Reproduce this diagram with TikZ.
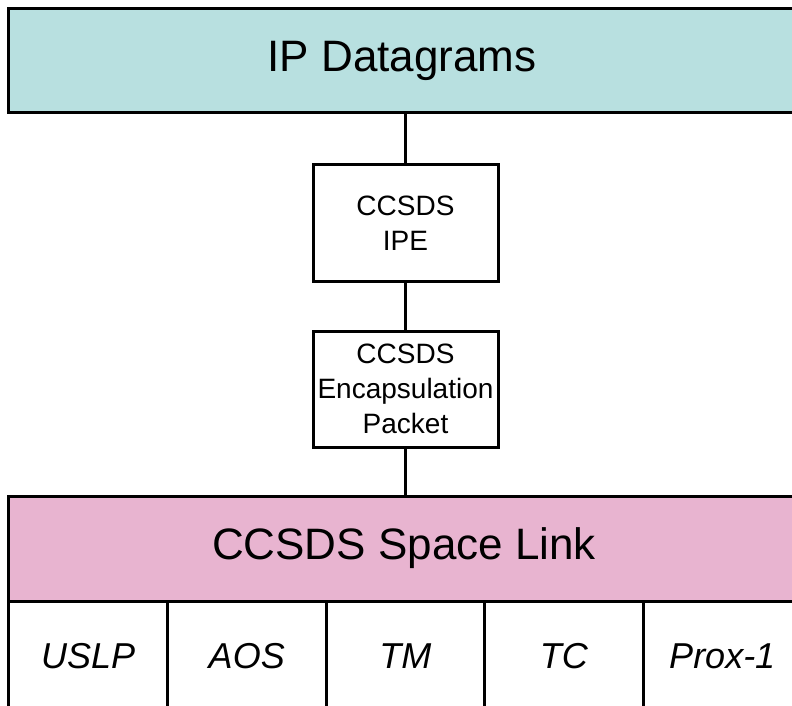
\documentclass[tikz,border=0pt]{standalone}
\usepackage{fontspec}
\setmainfont{Liberation Sans}
\definecolor{ipteal}{RGB}{184,224,224}
\definecolor{slpink}{RGB}{232,180,208}
\begin{document}
\begin{tikzpicture}[x=1bp,y=-1bp,
  layerbox/.style={draw, line width=3bp, inner sep=0pt, outer sep=0pt,
    minimum width=840bp, font=\fontsize{44bp}{50bp}\selectfont},
  protobox/.style={draw, fill=white, line width=3bp, inner sep=0pt, outer sep=0pt,
    align=center, minimum width=185bp, font=\fontsize{28bp}{35bp}\selectfont},
  cellbox/.style={draw, line width=3bp, inner sep=0pt, outer sep=0pt,
    minimum width=158.5bp, minimum height=111bp,
    font=\fontsize{36bp}{40bp}\selectfont\itshape},
  link/.style={line width=2.5bp}]
\useasboundingbox (0,0) rectangle (792,706);
\clip (0,0) rectangle (792,706);
\node[layerbox, fill=ipteal, minimum height=103bp] (ip) at (429,60.5) {IP Datagrams\hspace*{54bp}};
\node[protobox, minimum height=116bp] (ipe) at (405.5,223) {CCSDS\\IPE};
\node[protobox, minimum height=116bp] (encap) at (405.5,389) {CCSDS\\Encapsulation\\Packet};
\node[layerbox, fill=slpink, minimum height=105bp] (sl) at (429,548.5) {CCSDS Space Link\hspace*{50bp}};
\node[cellbox] (uslp) at (88.25,656.5) {USLP};
\node[cellbox] (aos) at (246.75,656.5) {AOS};
\node[cellbox] (tm) at (405.25,656.5) {TM};
\node[cellbox] (tc) at (563.75,656.5) {TC};
\node[cellbox] (prox) at (722.25,656.5) {Prox-1};
\draw[link] (ipe.north) -- (ipe.north |- ip.south);
\draw[link] (ipe.south) -- (encap.north);
\draw[link] (encap.south) -- (encap.south |- sl.north);
\end{tikzpicture}
\end{document}
